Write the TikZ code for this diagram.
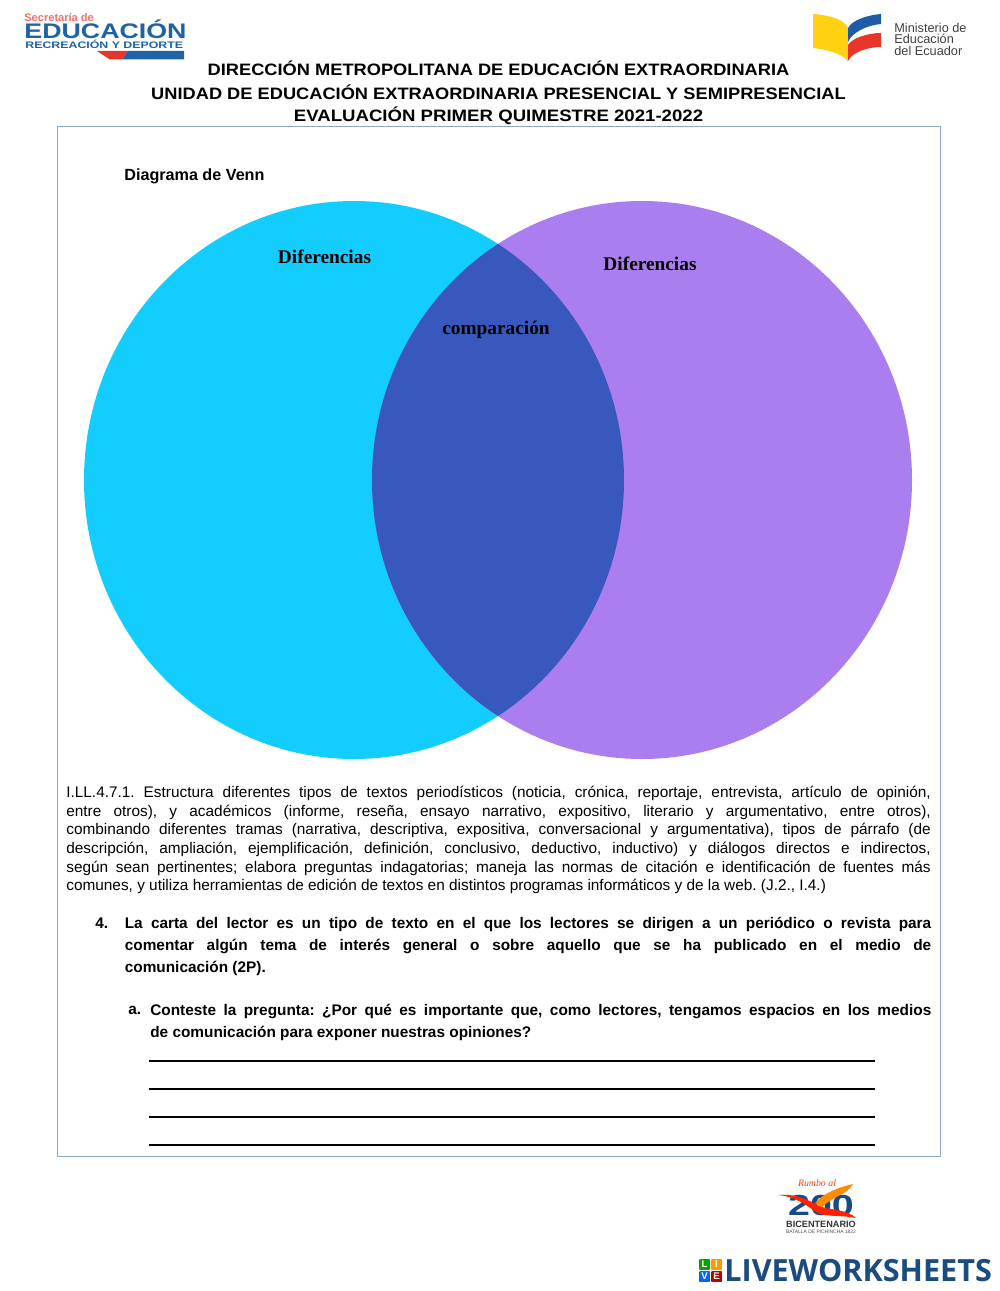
\documentclass[tikz,border=0pt]{standalone}
\usepackage{fontspec}
\setmainfont{Liberation Sans}
\newfontfamily\labelfont{Liberation Serif}
\newfontfamily\brandfont{Open Sans}
\usetikzlibrary{positioning}
\definecolor{vennleft}{HTML}{14CDFF}
\definecolor{vennright}{HTML}{AB7EF0}
\definecolor{vennboth}{HTML}{3858BE}
\definecolor{framecol}{HTML}{8FA8D0}
\definecolor{edublue}{HTML}{1E63A6}
\definecolor{navy}{HTML}{1B4B7F}
\definecolor{bookred}{HTML}{E8352B}
\definecolor{bookyellow}{HTML}{FFD110}
\definecolor{bookblue}{HTML}{1F5CA8}
\newcommand{\jline}[1]{\makebox[492pt][s]{#1}}
\tikzset{
    head/.style={font=\bfseries\fontsize{9.4}{11}\selectfont, inner sep=0pt, xscale=1.105},
    venntag/.style={font=\labelfont\bfseries\fontsize{11}{13}\selectfont, inner sep=0pt},
    para/.style={align=left, anchor=north west, inner sep=0pt},
    body/.style={para, font=\frenchspacing\fontsize{8.75}{10.6}\selectfont},
    strong/.style={para, font=\frenchspacing\bfseries\fontsize{8.75}{12.4}\selectfont},
    blank/.style={black, line width=0.7pt},
    tile/.style={rounded corners=0.5pt, minimum size=6.2pt, inner sep=0pt, text=white, font=\bfseries\fontsize{5.5}{6}\selectfont}
}
\begin{document}
\begin{tikzpicture}[x=0.02cm,y=-0.02cm]
    \useasboundingbox (0,0) rectangle (1000,1291);

    \fill[vennleft] (354,480) ellipse [x radius=270, y radius=279];
    \fill[vennright] (642,480) ellipse [x radius=270, y radius=279];
    \begin{scope}
        \clip (354,480) ellipse [x radius=270, y radius=279];
        \fill[vennboth] (642,480) ellipse [x radius=270, y radius=279];
    \end{scope}
    \draw[framecol, line width=0.45pt] (57,126) rectangle (940,1156);

    \node[venntag] (diffleft) at (324.5,257) {Diferencias};
    \node[venntag] (diffright) at (650,264) {Diferencias};
    \node[venntag] (compare) at (496,330) {comparación};

    \node[head] (headone) at (498.5,68.5) {DIRECCIÓN METROPOLITANA DE EDUCACIÓN EXTRAORDINARIA};
    \node[head] (headtwo) at (498.5,92) {UNIDAD DE EDUCACIÓN EXTRAORDINARIA PRESENCIAL Y SEMIPRESENCIAL};
    \node[head, xscale=1.02] (headthree) at (498.5,115.5) {EVALUACIÓN PRIMER QUIMESTRE 2021-2022};
    \node[anchor=west, inner sep=0pt, font=\bfseries\fontsize{9.2}{11}\selectfont] (venntitle) at (124,176) {Diagrama de Venn};

    \node[body] (indicator) at (66,786) {\jline{I.LL.4.7.1. Estructura diferentes tipos de textos periodísticos (noticia, crónica, reportaje, entrevista, artículo de opinión,}\\
        \jline{entre otros), y académicos (informe, reseña, ensayo narrativo, expositivo, literario y argumentativo, entre otros),}\\
        \jline{combinando diferentes tramas (narrativa, descriptiva, expositiva, conversacional y argumentativa), tipos de párrafo (de}\\
        \jline{descripción, ampliación, ejemplificación, definición, conclusivo, deductivo, inductivo) y diálogos directos e indirectos,}\\
        \jline{según sean pertinentes; elabora preguntas indagatorias; maneja las normas de citación e identificación de fuentes más}\\
        comunes, y utiliza herramientas de edición de textos en distintos programas informáticos y de la web. (J.2., I.4.)};

    \node[strong] (numfour) at (95,917.7) {4.};
    \node[strong] (question) at (124.5,917) {\makebox[459pt][s]{La carta del lector es un tipo de texto en el que los lectores se dirigen a un periódico o revista para}\\
        \makebox[459pt][s]{comentar algún tema de interés general o sobre aquello que se ha publicado en el medio de}\\
        comunicación (2P).};
    \node[strong] (lettera) at (128,1005.5) {a.};
    \node[strong] (subquestion) at (150,1004) {\makebox[444.5pt][s]{Conteste la pregunta: ¿Por qué es importante que, como lectores, tengamos espacios en los medios}\\
        de comunicación para exponer nuestras opiniones?};

    \draw[blank] (149,1061) -- (875,1061);
    \draw[blank] (149,1089) -- (875,1089);
    \draw[blank] (149,1117) -- (875,1117);
    \draw[blank] (149,1145) -- (875,1145);

    \node[inner sep=0pt, anchor=base west, text=bookred!70!white, font=\bfseries\fontsize{6.3}{7}\selectfont] (edusec) at (24,21.5) {Secretaría de};
    \node[inner sep=0pt, anchor=base west, text=edublue, font=\bfseries\fontsize{12}{13}\selectfont, xscale=1.27] (edumain) at (24,38.5) {EDUCACIÓN};
    \node[inner sep=0pt, anchor=base west, text=edublue, font=\bfseries\fontsize{5.4}{6}\selectfont, xscale=1.3] (edusub) at (25,49) {RECREACIÓN Y DEPORTE};
    \fill[bookred] (97,51) -- (128,51) -- (122,59.5) -- (110,59.5) -- cycle;
    \fill[edublue] (128,51) -- (184,51) -- (184,59.5) -- (122,59.5) -- cycle;

    \fill[bookyellow] (813,14) .. controls (830,15) and (845,20) .. (848,28) -- (848,62) .. controls (845,55) and (830,50) .. (813,48) -- cycle;
    \fill[bookblue] (848,28) .. controls (852,20) and (868,15) .. (881,14) -- (881,24) .. controls (868,25) and (852,32) .. (848,42) -- cycle;
    \fill[bookred] (848,45) .. controls (852,38) and (868,33) .. (881,33) -- (881,47) .. controls (868,47) and (852,52) .. (848,61) -- cycle;
    \node[inner sep=0pt, anchor=north west, align=left, text=black!75, font=\fontsize{7.25}{6.4}\selectfont] (ministry) at (894,23) {Ministerio de\\Educación\\del Ecuador};

    \node[inner sep=0pt, text=bookred!80!orange, font=\labelfont\itshape\fontsize{5.6}{6}\selectfont] (rumbo) at (817,1183) {Rumbo al};
    \node[inner sep=0pt, text=bookblue!80!black, font=\bfseries\fontsize{16.5}{17}\selectfont, xscale=1.36] (bicnum) at (821,1206) {200};
    \fill[red!75!orange] (778,1195) .. controls (800,1193) and (812,1203) .. (822,1207) .. controls (832,1210) and (848,1210) .. (856,1218) .. controls (842,1215) and (826,1217) .. (818,1213) .. controls (808,1207) and (798,1197) .. (778,1195) -- cycle;
    \fill[orange!90!yellow] (815,1203) .. controls (825,1192) and (840,1187) .. (853,1184) .. controls (848,1194) and (835,1195) .. (822,1207) -- cycle;
    \node[inner sep=0pt, text=black!80, font=\bfseries\fontsize{5.2}{6}\selectfont] (bictext) at (821,1224.5) {BICENTENARIO};
    \node[inner sep=0pt, text=black!70, font=\fontsize{2.8}{3}\selectfont] (bicsub) at (821,1231.5) {BATALLA DE PICHINCHA 1822};

    \node[tile, fill=green!65!black] (tileL) at (704.5,1264.5) {L};
    \node[tile, fill=orange!80!yellow] (tileI) at (716.5,1264.5) {I};
    \node[tile, fill=blue!60!cyan] (tileV) at (704.5,1276.5) {V};
    \node[tile, fill=red!75!black] (tileE) at (716.5,1276.5) {E};
    \node[inner sep=0pt, anchor=west, text=navy, font=\brandfont\bfseries\fontsize{17.4}{18}\selectfont] (brand) at (724,1271) {LIVEWORKSHEETS};
\end{tikzpicture}
\end{document}
